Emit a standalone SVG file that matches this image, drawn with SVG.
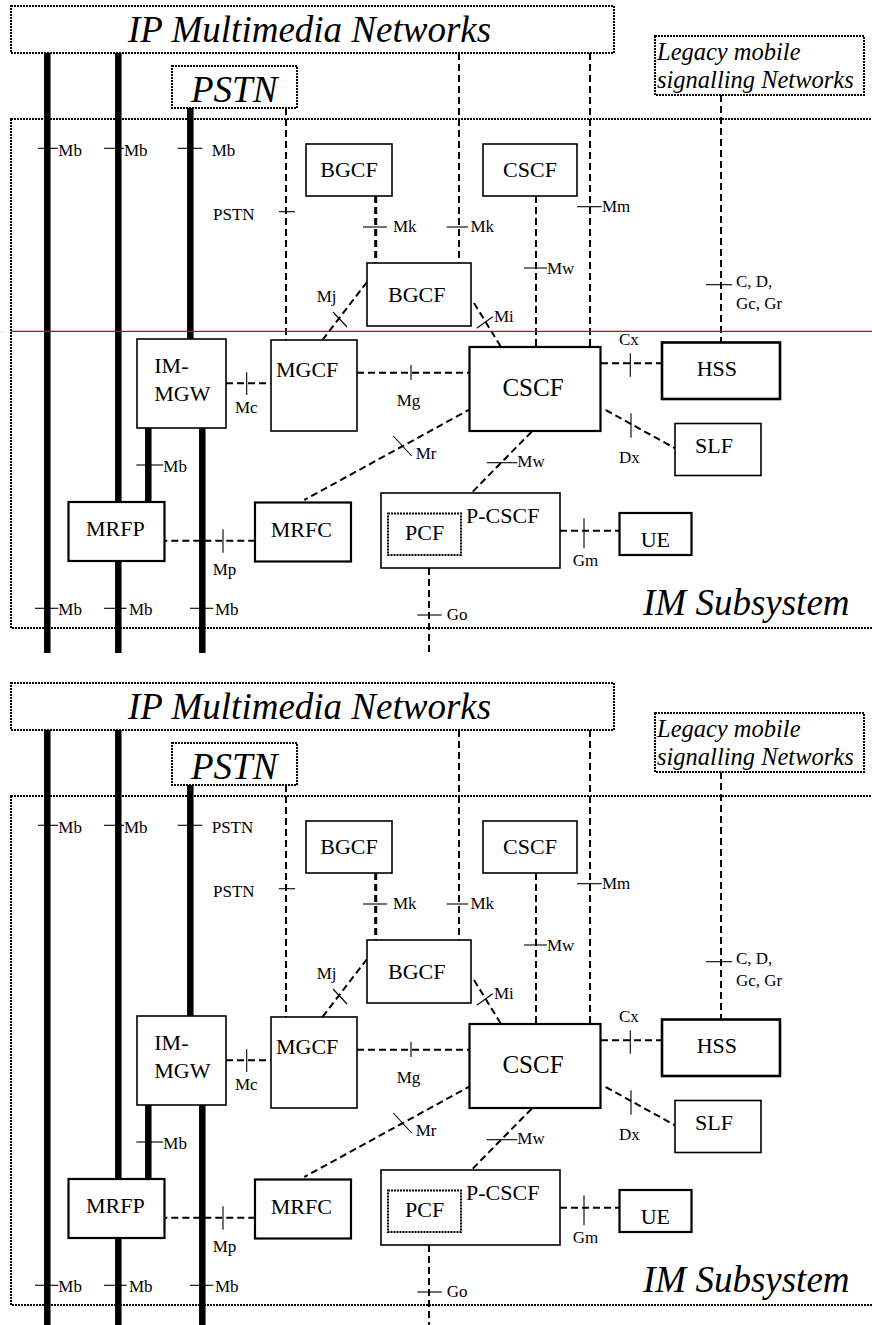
<svg xmlns="http://www.w3.org/2000/svg" width="872" height="1325" viewBox="0 0 872 1325">
<style>
.dot{fill:none;stroke:#000;stroke-width:2;stroke-dasharray:2 1}
.frm{fill:#fff;stroke:#000;stroke-width:2;stroke-dasharray:2 1}
.box{fill:#fff;stroke:#000;stroke-width:1.6}
.b2{fill:#fff;stroke:#000;stroke-width:2.2}
.thick{stroke:#000;stroke-width:6.5;fill:none}
.dash{fill:none;stroke:#000;stroke-width:2;stroke-dasharray:7 4}
.dash3{fill:none;stroke:#000;stroke-width:3;stroke-dasharray:7 4}
.tick{stroke:#000;stroke-width:1.1;fill:none}
text{font-family:"Times New Roman","Liberation Serif","DejaVu Serif",serif;fill:#000}
.lbl{font-size:17px}
.nt{font-size:22px}
.big{font-style:italic;font-size:37px}
.leg{font-style:italic;font-size:24.5px}
</style>
<rect width="872" height="1325" fill="#fff"/>

<g id="diagramA">
  <g id="imsA"><rect class="dot" x="11" y="119" width="875" height="509"/><text class="big" x="643" y="615">IM Subsystem</text></g>
  <g id="ipA"><rect class="frm" x="11" y="6" width="603" height="47"/><text class="big" x="128" y="42">IP Multimedia Networks</text></g>
  <g id="pstnA"><rect class="frm" x="172" y="66" width="125" height="42"/><text class="big" x="191" y="101.5">PSTN</text></g>
  <g id="legacyA"><rect class="frm" x="655" y="36" width="209" height="59"/><text class="leg" x="657" y="60">Legacy mobile</text><text class="leg" x="657" y="88">signalling Networks</text></g>

  <g id="connectorsA">
    <line class="thick" x1="47.3" y1="53" x2="47.3" y2="653"/>
    <line class="thick" x1="118.3" y1="53" x2="118.3" y2="653"/>
    <line class="thick" x1="190.3" y1="108" x2="190.3" y2="339"/>
    <line class="thick" x1="148.3" y1="428" x2="148.3" y2="502"/>
    <line class="thick" x1="202.3" y1="428" x2="202.3" y2="653"/>
    <line class="tick" x1="38" y1="148.3" x2="58" y2="148.3"/><text class="lbl" x="58.3" y="156">Mb</text>
    <line class="tick" x1="104" y1="148.3" x2="124" y2="148.3"/><text class="lbl" x="124" y="156">Mb</text>
    <line class="tick" x1="177.7" y1="148.3" x2="202.3" y2="148.3"/><text class="lbl" x="211.7" y="156">Mb</text>
    <line class="tick" x1="136.3" y1="465" x2="163.3" y2="465"/><text class="lbl" x="163.3" y="471.5">Mb</text>
    <line class="tick" x1="35" y1="608.3" x2="58.3" y2="608.3"/><text class="lbl" x="58.3" y="615">Mb</text>
    <line class="tick" x1="104" y1="608.3" x2="126.7" y2="608.3"/><text class="lbl" x="129" y="615">Mb</text>
    <line class="tick" x1="190" y1="608.3" x2="213.3" y2="608.3"/><text class="lbl" x="215" y="615">Mb</text>

    <line class="dash" x1="286" y1="108" x2="286" y2="340"/>
    <line class="tick" x1="279" y1="211.7" x2="295" y2="211.7"/><text class="lbl" x="213" y="220">PSTN</text>
    <line class="dash3" x1="375.7" y1="196" x2="375.7" y2="263"/>
    <line class="tick" x1="363" y1="227" x2="387" y2="227"/><text class="lbl" x="393" y="232">Mk</text>
    <line class="dash" x1="459" y1="53" x2="459" y2="263"/>
    <line class="tick" x1="446.7" y1="227" x2="468" y2="227"/><text class="lbl" x="470.5" y="232">Mk</text>
    <line class="dash" x1="590" y1="53" x2="590" y2="347"/>
    <line class="tick" x1="577" y1="206.7" x2="601.7" y2="206.7"/><text class="lbl" x="602" y="212">Mm</text>
    <line class="dash" x1="536" y1="196" x2="536" y2="347"/>
    <line class="tick" x1="524" y1="268" x2="547" y2="268"/><text class="lbl" x="547" y="274">Mw</text>
    <line class="dash" x1="721" y1="95" x2="721" y2="342"/>
    <line class="tick" x1="706" y1="284.7" x2="732" y2="284.7"/><text class="lbl" x="736" y="287">C, D,</text><text class="lbl" x="736" y="308.5">Gc, Gr</text>
    <line class="dash" x1="367" y1="282" x2="321.7" y2="341"/>
    <line class="tick" x1="333" y1="312" x2="347" y2="327"/><text class="lbl" x="316.7" y="302">Mj</text>
    <line class="dash" x1="474" y1="303" x2="501" y2="347"/>
    <line class="tick" x1="476.7" y1="328.3" x2="492.7" y2="316.7"/><text class="lbl" x="494" y="322">Mi</text>
    <line class="dash" x1="226" y1="383.3" x2="271" y2="383.3"/>
    <line class="tick" x1="246.7" y1="372.3" x2="246.7" y2="395"/><text class="lbl" x="235" y="413">Mc</text>
    <line class="dash" x1="357" y1="372.7" x2="470" y2="372.7"/>
    <line class="tick" x1="411" y1="365" x2="411" y2="380"/><text class="lbl" x="396.7" y="406">Mg</text>
    <line class="dash" x1="601" y1="363.3" x2="662" y2="363.3"/>
    <line class="tick" x1="630.3" y1="353.3" x2="630.3" y2="376.7"/><text class="lbl" x="619" y="345">Cx</text>
    <line class="dash" x1="605.7" y1="410" x2="675" y2="448.3"/>
    <line class="tick" x1="631" y1="413.3" x2="631" y2="437.7"/><text class="lbl" x="619" y="463">Dx</text>
    <line class="dash" x1="471.7" y1="408.3" x2="304.3" y2="500"/>
    <line class="tick" x1="393.3" y1="436" x2="411.7" y2="456"/><text class="lbl" x="415.7" y="459">Mr</text>
    <line class="dash" x1="531.7" y1="431.7" x2="471.7" y2="492.7"/>
    <line class="tick" x1="486.7" y1="462.7" x2="517.3" y2="462.7"/><text class="lbl" x="517.3" y="467">Mw</text>
    <line class="dash" x1="560" y1="530.7" x2="619.5" y2="530.7"/>
    <line class="tick" x1="584" y1="518.3" x2="584" y2="548.3"/><text class="lbl" x="572.7" y="566">Gm</text>
    <line class="dash" x1="160.3" y1="540.7" x2="255" y2="540.7"/>
    <line class="tick" x1="223" y1="529.3" x2="223" y2="552.7"/><text class="lbl" x="212.7" y="575">Mp</text>
    <line class="dash" x1="429" y1="568" x2="429" y2="653"/>
    <line class="tick" x1="417.3" y1="615" x2="441.7" y2="615"/><text class="lbl" x="446.7" y="620">Go</text>
  </g>

  <g id="bgcf1A"><rect class="box" x="306" y="144" width="86" height="52"/><text class="nt" x="349" y="177" text-anchor="middle">BGCF</text></g>
  <g id="bgcf2A"><rect class="box" x="367" y="263" width="104" height="63"/><text class="nt" x="388" y="302">BGCF</text></g>
  <g id="cscf1A"><rect class="box" x="483" y="144" width="94" height="52"/><text class="nt" x="530" y="177" text-anchor="middle">CSCF</text></g>
  <g id="immgwA"><rect class="box" x="137" y="339" width="89" height="89"/><text class="nt" x="154.3" y="373">IM-</text><text class="nt" x="154.3" y="401">MGW</text></g>
  <g id="mgcfA"><rect class="box" x="271" y="340" width="86" height="91"/><text class="nt" x="276" y="377">MGCF</text></g>
  <g id="cscfA"><rect class="b2" x="469.5" y="347" width="131" height="84"/><text class="nt" x="533" y="396" text-anchor="middle" style="font-size:25px">CSCF</text></g>
  <g id="hssA"><rect class="box" x="662" y="342.5" width="118" height="56.5" style="stroke-width:2.6"/><text class="nt" x="696.7" y="375.7">HSS</text></g>
  <g id="slfA"><rect class="box" x="675" y="423.5" width="86" height="52"/><text class="nt" x="695" y="453">SLF</text></g>
  <g id="pcscfA"><rect class="box" x="381" y="493" width="179" height="75"/><text class="nt" x="466" y="523">P-CSCF</text></g>
  <g id="pcfA"><rect class="dot" x="388" y="513.5" width="73" height="41.5"/><text class="nt" x="405" y="540">PCF</text></g>
  <g id="ueA"><rect class="b2" x="619.5" y="513" width="72" height="42"/><text class="nt" x="640.7" y="547">UE</text></g>
  <g id="mrfcA"><rect class="b2" x="255" y="502.5" width="96" height="59"/><text class="nt" x="270.7" y="537">MRFC</text></g>
  <g id="mrfpA"><rect class="b2" x="68.5" y="502" width="96" height="59"/><text class="nt" x="86" y="536">MRFP</text></g>

  <line x1="11" y1="331.3" x2="872" y2="331.3" stroke="#d40000" stroke-width="1.2"/>
</g>

<g id="diagramB" transform="translate(0,677)">
  <g id="imsB"><rect class="dot" x="11" y="119" width="875" height="509"/><text class="big" x="643" y="615">IM Subsystem</text></g>
  <g id="ipB"><rect class="frm" x="11" y="6" width="603" height="47"/><text class="big" x="128" y="42">IP Multimedia Networks</text></g>
  <g id="pstnB"><rect class="frm" x="172" y="66" width="125" height="42"/><text class="big" x="191" y="101.5">PSTN</text></g>
  <g id="legacyB"><rect class="frm" x="655" y="36" width="209" height="59"/><text class="leg" x="657" y="60">Legacy mobile</text><text class="leg" x="657" y="88">signalling Networks</text></g>

  <g id="connectorsB">
    <line class="thick" x1="47.3" y1="53" x2="47.3" y2="653"/>
    <line class="thick" x1="118.3" y1="53" x2="118.3" y2="653"/>
    <line class="thick" x1="190.3" y1="108" x2="190.3" y2="339"/>
    <line class="thick" x1="148.3" y1="428" x2="148.3" y2="502"/>
    <line class="thick" x1="202.3" y1="428" x2="202.3" y2="653"/>
    <line class="tick" x1="38" y1="148.3" x2="58" y2="148.3"/><text class="lbl" x="58.3" y="156">Mb</text>
    <line class="tick" x1="104" y1="148.3" x2="124" y2="148.3"/><text class="lbl" x="124" y="156">Mb</text>
    <line class="tick" x1="177.7" y1="148.3" x2="202.3" y2="148.3"/><text class="lbl" x="211.7" y="156">PSTN</text>
    <line class="tick" x1="136.3" y1="465" x2="163.3" y2="465"/><text class="lbl" x="163.3" y="471.5">Mb</text>
    <line class="tick" x1="35" y1="608.3" x2="58.3" y2="608.3"/><text class="lbl" x="58.3" y="615">Mb</text>
    <line class="tick" x1="104" y1="608.3" x2="126.7" y2="608.3"/><text class="lbl" x="129" y="615">Mb</text>
    <line class="tick" x1="190" y1="608.3" x2="213.3" y2="608.3"/><text class="lbl" x="215" y="615">Mb</text>

    <line class="dash" x1="286" y1="108" x2="286" y2="340"/>
    <line class="tick" x1="279" y1="211.7" x2="295" y2="211.7"/><text class="lbl" x="213" y="220">PSTN</text>
    <line class="dash3" x1="375.7" y1="196" x2="375.7" y2="263"/>
    <line class="tick" x1="363" y1="227" x2="387" y2="227"/><text class="lbl" x="393" y="232">Mk</text>
    <line class="dash" x1="459" y1="53" x2="459" y2="263"/>
    <line class="tick" x1="446.7" y1="227" x2="468" y2="227"/><text class="lbl" x="470.5" y="232">Mk</text>
    <line class="dash" x1="590" y1="53" x2="590" y2="347"/>
    <line class="tick" x1="577" y1="206.7" x2="601.7" y2="206.7"/><text class="lbl" x="602" y="212">Mm</text>
    <line class="dash" x1="536" y1="196" x2="536" y2="347"/>
    <line class="tick" x1="524" y1="268" x2="547" y2="268"/><text class="lbl" x="547" y="274">Mw</text>
    <line class="dash" x1="721" y1="95" x2="721" y2="342"/>
    <line class="tick" x1="706" y1="284.7" x2="732" y2="284.7"/><text class="lbl" x="736" y="287">C, D,</text><text class="lbl" x="736" y="308.5">Gc, Gr</text>
    <line class="dash" x1="367" y1="282" x2="321.7" y2="341"/>
    <line class="tick" x1="333" y1="312" x2="347" y2="327"/><text class="lbl" x="316.7" y="302">Mj</text>
    <line class="dash" x1="474" y1="303" x2="501" y2="347"/>
    <line class="tick" x1="476.7" y1="328.3" x2="492.7" y2="316.7"/><text class="lbl" x="494" y="322">Mi</text>
    <line class="dash" x1="226" y1="383.3" x2="271" y2="383.3"/>
    <line class="tick" x1="246.7" y1="372.3" x2="246.7" y2="395"/><text class="lbl" x="235" y="413">Mc</text>
    <line class="dash" x1="357" y1="372.7" x2="470" y2="372.7"/>
    <line class="tick" x1="411" y1="365" x2="411" y2="380"/><text class="lbl" x="396.7" y="406">Mg</text>
    <line class="dash" x1="601" y1="363.3" x2="662" y2="363.3"/>
    <line class="tick" x1="630.3" y1="353.3" x2="630.3" y2="376.7"/><text class="lbl" x="619" y="345">Cx</text>
    <line class="dash" x1="605.7" y1="410" x2="675" y2="448.3"/>
    <line class="tick" x1="631" y1="413.3" x2="631" y2="437.7"/><text class="lbl" x="619" y="463">Dx</text>
    <line class="dash" x1="471.7" y1="408.3" x2="304.3" y2="500"/>
    <line class="tick" x1="393.3" y1="436" x2="411.7" y2="456"/><text class="lbl" x="415.7" y="459">Mr</text>
    <line class="dash" x1="531.7" y1="431.7" x2="471.7" y2="492.7"/>
    <line class="tick" x1="486.7" y1="462.7" x2="517.3" y2="462.7"/><text class="lbl" x="517.3" y="467">Mw</text>
    <line class="dash" x1="560" y1="530.7" x2="619.5" y2="530.7"/>
    <line class="tick" x1="584" y1="518.3" x2="584" y2="548.3"/><text class="lbl" x="572.7" y="566">Gm</text>
    <line class="dash" x1="160.3" y1="540.7" x2="255" y2="540.7"/>
    <line class="tick" x1="223" y1="529.3" x2="223" y2="552.7"/><text class="lbl" x="212.7" y="575">Mp</text>
    <line class="dash" x1="429" y1="568" x2="429" y2="653"/>
    <line class="tick" x1="417.3" y1="615" x2="441.7" y2="615"/><text class="lbl" x="446.7" y="620">Go</text>
  </g>

  <g id="bgcf1B"><rect class="box" x="306" y="144" width="86" height="52"/><text class="nt" x="349" y="177" text-anchor="middle">BGCF</text></g>
  <g id="bgcf2B"><rect class="box" x="367" y="263" width="104" height="63"/><text class="nt" x="388" y="302">BGCF</text></g>
  <g id="cscf1B"><rect class="box" x="483" y="144" width="94" height="52"/><text class="nt" x="530" y="177" text-anchor="middle">CSCF</text></g>
  <g id="immgwB"><rect class="box" x="137" y="339" width="89" height="89"/><text class="nt" x="154.3" y="373">IM-</text><text class="nt" x="154.3" y="401">MGW</text></g>
  <g id="mgcfB"><rect class="box" x="271" y="340" width="86" height="91"/><text class="nt" x="276" y="377">MGCF</text></g>
  <g id="cscfB"><rect class="b2" x="469.5" y="347" width="131" height="84"/><text class="nt" x="533" y="396" text-anchor="middle" style="font-size:25px">CSCF</text></g>
  <g id="hssB"><rect class="box" x="662" y="342.5" width="118" height="56.5" style="stroke-width:2.6"/><text class="nt" x="696.7" y="375.7">HSS</text></g>
  <g id="slfB"><rect class="box" x="675" y="423.5" width="86" height="52"/><text class="nt" x="695" y="453">SLF</text></g>
  <g id="pcscfB"><rect class="box" x="381" y="493" width="179" height="75"/><text class="nt" x="466" y="523">P-CSCF</text></g>
  <g id="pcfB"><rect class="dot" x="388" y="513.5" width="73" height="41.5"/><text class="nt" x="405" y="540">PCF</text></g>
  <g id="ueB"><rect class="b2" x="619.5" y="513" width="72" height="42"/><text class="nt" x="640.7" y="547">UE</text></g>
  <g id="mrfcB"><rect class="b2" x="255" y="502.5" width="96" height="59"/><text class="nt" x="270.7" y="537">MRFC</text></g>
  <g id="mrfpB"><rect class="b2" x="68.5" y="502" width="96" height="59"/><text class="nt" x="86" y="536">MRFP</text></g>
</g>
</svg>
